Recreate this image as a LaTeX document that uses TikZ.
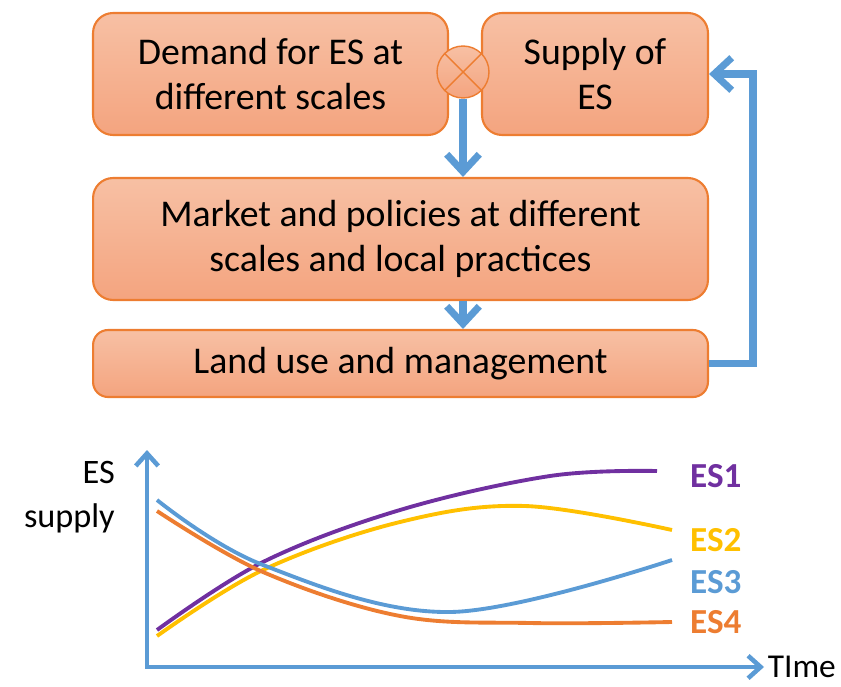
\documentclass[tikz,border=0pt]{standalone}
\usepackage{fontspec}
\setmainfont{Carlito}
\usetikzlibrary{arrows.meta,positioning}
\definecolor{boxline}{HTML}{ED7D31}
\definecolor{boxtop}{HTML}{F7C0A4}
\definecolor{boxbot}{HTML}{F4A47F}
\definecolor{flow}{HTML}{5B9BD5}
\definecolor{esone}{HTML}{7030A0}
\definecolor{estwo}{HTML}{FFC000}
\definecolor{esthree}{HTML}{5B9BD5}
\definecolor{esfour}{HTML}{ED7D31}
\tikzset{
    %Define standard arrow tip
    >={Straight Barb[length=3.5mm,width=6.5mm]},
    %Define style for boxes
    stage/.style={
           rectangle,
           rounded corners=0.4cm,
           draw=boxline, line width=1.2pt,
           top color=boxtop, bottom color=boxbot,
           align=center,
           font=\fontsize{21.5}{25.5}\selectfont},
    junction/.style={
           circle,
           draw=boxline, line width=0.8pt,
           top color=boxtop, bottom color=boxbot,
           minimum size=1.04cm, inner sep=0pt},
    % Define arrow style
    flowarrow/.style={
           ->,
           draw=flow, line width=4pt},
    plotaxis/.style={
           {Straight Barb[length=2.5mm,width=4.5mm]}-{Straight Barb[length=2.5mm,width=4.5mm]},
           draw=flow, line width=2.6pt},
    esline/.style={line width=2.2pt, smooth, tension=0.6},
    eslabel/.style={
           anchor=west,
           font=\fontsize{20}{24}\selectfont\bfseries}
}
\begin{document}
\begin{tikzpicture}[x=0.02cm,y=-0.02cm]
\useasboundingbox (0,0) rectangle (841,686);
 %nodes
\node[stage, minimum width=7.1cm, minimum height=2.44cm] (demand) at (270.5,74) {Demand for ES at\\different scales};
\node[stage, minimum width=4.52cm, minimum height=2.44cm] (supply) at (595,74) {Supply of\\ES};
\node[stage, minimum width=12.3cm, minimum height=2.44cm] (market) at (400.5,239) {Market and policies at different\\scales and local practices};
\node[stage, rounded corners=0.3cm, minimum width=12.3cm, minimum height=1.34cm] (land) at (400.5,363.5) {Land use and management};
\node[junction] (join) at (463,72) {};
\draw[boxline, line width=0.8pt] (join.45) -- (join.225) (join.135) -- (join.315);

 %arrows
\draw[flowarrow] (join.south) -- (join.south |- market.north);
\draw[flowarrow] (market.south -| join) -- (land.north -| join);
\draw[flowarrow, rounded corners=0pt] (land.east) -- ++(44,0) |- (supply.east);

 %chart
\coordinate (origin) at (147,667);
\coordinate (ytop) at (147,450);
\coordinate (xend) at (764,667);
\draw[plotaxis] (ytop) -- (origin) -- (xend);
\node[anchor=west, font=\fontsize{19}{22}\selectfont, inner sep=2pt] (time) at (xend) {TIme};
\node[anchor=east, align=right, font=\fontsize{19.5}{25}\selectfont] (ylabel) at (121,497) {ES\\supply};

\draw[esline, esone] plot coordinates {(157,630) (263,562) (400,510) (550,476) (657,471)};
\draw[esline, estwo] plot coordinates {(157,636) (263,570) (400,522) (525,506) (672,530)};
\draw[esline, esthree] plot coordinates {(157,500) (263,565) (450,612) (672,560)};
\draw[esline, esfour] plot coordinates {(157,511) (263,572) (400,616) (530,623) (672,622)};

\node[eslabel, text=esone] (es1) at (684,476) {ES1};
\node[eslabel, text=estwo] (es2) at (684,540) {ES2};
\node[eslabel, text=esthree] (es3) at (684,582) {ES3};
\node[eslabel, text=esfour] (es4) at (684,622) {ES4};
\end{tikzpicture}
\end{document}
